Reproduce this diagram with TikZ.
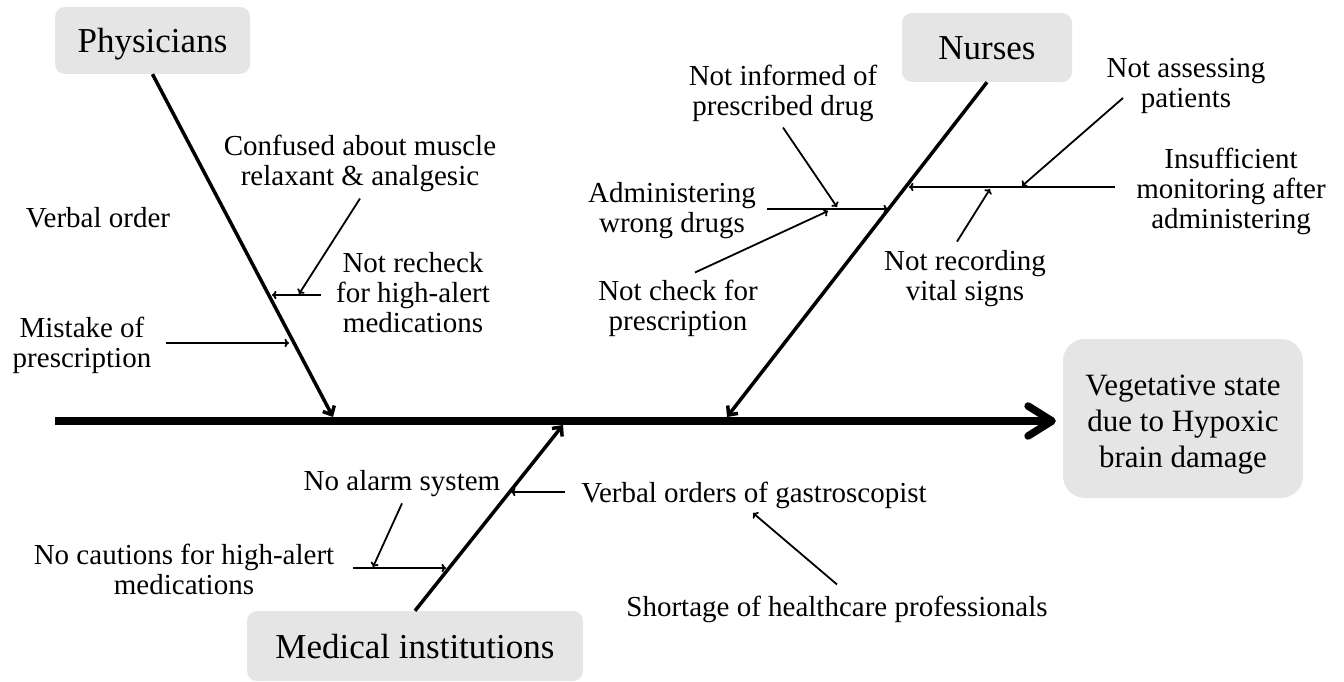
\documentclass[tikz,border=0pt]{standalone}
\usepackage{fontspec}
\setmainfont{Liberation Serif}
\usetikzlibrary{arrows.meta}
\definecolor{boxgray}{RGB}{230,229,230}
\begin{document}
\begin{tikzpicture}[x=1pt,y=-1pt,
  boxfill/.style={fill=boxgray, inner sep=0pt},
  catbox/.style={boxfill, rounded corners=10pt, font=\fontsize{35}{40}\selectfont, text height=24pt, text depth=0pt},
  lbl/.style={align=center, inner sep=0pt, font=\fontsize{29}{30}\selectfont},
  spine/.style={line width=7.5pt, -{Straight Barb[length=24pt,width=30pt,round]}},
  bone/.style={line width=3.5pt, -{Straight Barb[length=7pt,width=13pt]}},
  sub/.style={line width=1.8pt, -{To[length=4.5pt,width=8.5pt]}}
]
\useasboundingbox (0,0) rectangle (1344,682);

% category boxes and effect
\node[catbox, minimum width=195pt, minimum height=67pt] (phys) at (152.5,40.5) {Physicians};
\node[catbox, minimum width=170pt, minimum height=69pt] (nurs) at (987,47.5) {Nurses};
\node[catbox, minimum width=336pt, minimum height=70pt] (med) at (415,646) {Medical institutions};
\node[boxfill, rounded corners=22pt, minimum width=240pt, minimum height=159pt, align=center,
      font=\fontsize{31}{36}\selectfont] (eff) at (1183,418.5) {\rule{0pt}{32pt}Vegetative state\\due to Hypoxic\\brain damage};

% spine
\coordinate (tail) at (55,421);
\draw[spine] (tail) -- ([xshift=-7pt]tail -| eff.west);

% junctions on spine
\coordinate (pj) at (333,417);
\coordinate (nj) at (727,417);
\coordinate (mj) at (563,425);

% main bones
\draw[bone] (phys.south) -- (pj);
\draw[bone] (nurs.south) -- (nj);
\draw[bone] (med.north) -- (mj);

% ---------- Physicians ----------
\node[lbl] (conf) at (360,163) {Confused about muscle\\relaxant \& analgesic};
\node[lbl] (nrc) at (413,293) {Not recheck\\for high-alert\\medications};
\node[lbl] (vo) at (98,218) {Verbal order};
\node[lbl] (mis) at (82,345) {Mistake of\\prescription};
\coordinate (p1s) at (321,295);
\coordinate (p1) at (272,295);
\coordinate (p1m) at (299,294);
\coordinate (p2) at (289,343);
\draw[sub] (p1s) -- (p1);
\draw[sub] ([yshift=-7pt]conf.south) -- (p1m);
\draw[sub] ([xshift=15pt,yshift=2pt]mis.east) -- (p2);

% ---------- Nurses ----------
\node[lbl] (ninf) at (783,93) {Not informed of\\prescribed drug};
\node[lbl] (adm) at (672,211) {Administering\\wrong drugs};
\node[lbl] (nchk) at (678,308) {Not check for\\prescription};
\node[lbl] (nass) at (1186,86) {Not assessing\\patients};
\node[lbl] (insf) at (1231,191) {Insufficient\\monitoring after\\administering};
\node[lbl] (nrec) at (965,279) {Not recording\\vital signs};
\coordinate (n1s) at (767,209);
\coordinate (n1) at (888,209);
\coordinate (n1a) at (837,207);
\coordinate (n1b) at (828,211);
\draw[sub] (n1s) -- (n1);
\draw[sub] ([yshift=-6pt]ninf.south) -- (n1a);
\draw[sub] ([xshift=17pt,yshift=7pt]nchk.north) -- (n1b);
\coordinate (n2s) at (1115,187);
\coordinate (n2) at (909,187);
\coordinate (n2as) at (1123,98);
\coordinate (n2a) at (1022,186);
\coordinate (n2b) at (990,189);
\draw[sub] (n2s) -- (n2);
\draw[sub] (n2as) -- (n2a);
\draw[sub] ([xshift=-8pt,yshift=9pt]nrec.north) -- (n2b);

% ---------- Medical institutions ----------
\node[lbl] (nal) at (402,484) {No alarm system};
\node[lbl] (ncau) at (184,569) {No cautions for high-alert\\medications};
\node[lbl] (vog) at (754,495) {Verbal orders of gastroscopist};
\node[lbl] (sho) at (837,609) {Shortage of healthcare professionals};
\coordinate (m1s) at (353,568);
\coordinate (m1) at (446,568);
\coordinate (m1a) at (373,567);
\draw[sub] (m1s) -- (m1);
\draw[sub] ([yshift=-6pt]nal.south) -- (m1a);
\coordinate (m2s) at (565,492);
\coordinate (m2) at (511,492);
\coordinate (m2a) at (753,513);
\draw[sub] (m2s) -- (m2);
\draw[sub] ([yshift=11pt]sho.north) -- (m2a);
\end{tikzpicture}
\end{document}
